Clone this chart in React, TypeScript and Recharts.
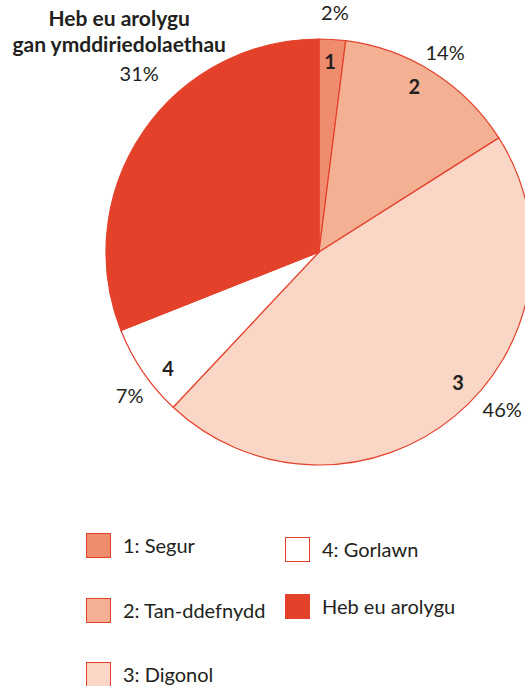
import React from 'react';
import { PieChart, Pie, Cell, Legend } from 'recharts';

// ---- data ----
const categories = ['1: Segur', '2: Tan-ddefnydd', '3: Digonol', '4: Gorlawn', 'Heb eu arolygu'];
const sliceNumbers = ['1', '2', '3', '4', ''];
const values = [2, 14, 46, 7, 31];
const percentLabels = ['2%', '14%', '46%', '7%', '31%'];
const titleLines = ['Heb eu arolygu', 'gan ymddiriedolaethau'];

// ---- styles ----
const colors = ['#ee8c6d', '#f3b093', '#f9d6c6', '#ffffff', '#e4412b'];
const STROKE = '#e4412b';
const TEXT = '#231f20';
const FONT = 'Lato, "Open Sans", sans-serif';
const INNER_R = 191;
const INNER_NUDGE = [-0.3, -2.5, -7.1, -3.6, 0];
const OUTER_R = [240, 236, 242, 238, 253];
const OUTER_NUDGE = [0.2, -0.1, -9.6, -3.1, 10.5];
const LEGEND_POS = [
  { x: 86, y: 545 },
  { x: 86, y: 610 },
  { x: 86, y: 674 },
  { x: 285, y: 549 },
  { x: 285, y: 606 },
];

const data = categories.map((name, i) => ({ name, value: values[i] }));

const polar = (cx: number, cy: number, r: number, deg: number) => {
  const rad = (deg * Math.PI) / 180;
  return { x: cx + r * Math.sin(rad), y: cy - r * Math.cos(rad) };
};

const renderLabel = (props: any) => {
  const { cx, cy, midAngle, index } = props;
  const theta = 90 - midAngle; // clockwise from top
  const inner = polar(cx, cy, INNER_R, theta + INNER_NUDGE[index]);
  const outer = polar(cx, cy, OUTER_R[index], theta + OUTER_NUDGE[index]);
  const fs = 20;
  return (
    <g key={`lbl-${index}`}>
      {sliceNumbers[index] && (
        <text x={inner.x} y={inner.y + 0.36 * 20} textAnchor="middle" fontFamily={FONT} fontWeight="bold" fontSize={20} fill={TEXT}>
          {sliceNumbers[index]}
        </text>
      )}
      <text x={outer.x} y={outer.y + 0.36 * fs} textAnchor="middle" fontFamily={FONT} fontSize={fs} fill={TEXT}>
        {percentLabels[index]}
      </text>
      {index === categories.length - 1 &&
        titleLines.map((t, k) => (
          <text key={k} x={outer.x - 20} y={outer.y - 48 + k * 26} textAnchor="middle" fontFamily={FONT} fontWeight="bold" fontSize={21} fill={TEXT}>
            {t}
          </text>
        ))}
    </g>
  );
};

const renderLegend = (props: any) => {
  const payload = props.payload || [];
  return (
    <div style={{ position: 'relative', width: 525, height: 0 }}>
      {payload.map((entry: any, i: number) => {
        const idx = categories.indexOf(entry.value);
        const p = LEGEND_POS[idx >= 0 ? idx : i];
        return (
          <div key={i} style={{ position: 'absolute', left: p.x, top: p.y - 13, height: 26, display: 'flex', alignItems: 'center', whiteSpace: 'nowrap' }}>
            <div style={{ width: 23, height: 23, background: colors[idx], border: `1px solid ${STROKE}`, boxSizing: 'content-box' }} />
            <span style={{ marginLeft: 12, fontFamily: FONT, fontSize: 20, color: TEXT }}>{entry.value}</span>
          </div>
        );
      })}
    </div>
  );
};

export default function App() {
  return (
    <div style={{ position: 'absolute', left: 0, top: 0, width: 525, height: 686, background: '#fff', overflow: 'hidden' }}>
      <PieChart width={525} height={686} margin={{ top: 0, right: 0, bottom: 0, left: 0 }}>
        <Pie
          data={data}
          dataKey="value"
          nameKey="name"
          cx={319}
          cy={252}
          outerRadius={213}
          innerRadius={0}
          startAngle={90}
          endAngle={-270}
          stroke={STROKE}
          strokeWidth={1.2}
          label={renderLabel}
          labelLine={false}
          isAnimationActive={false}
        >
          {data.map((d, i) => (
            <Cell key={d.name} fill={colors[i]} />
          ))}
        </Pie>
        <Legend
          content={renderLegend}
          wrapperStyle={{ position: 'absolute', left: 0, top: 0, width: 525, height: 0, overflow: 'visible' }}
        />
      </PieChart>
    </div>
  );
}
